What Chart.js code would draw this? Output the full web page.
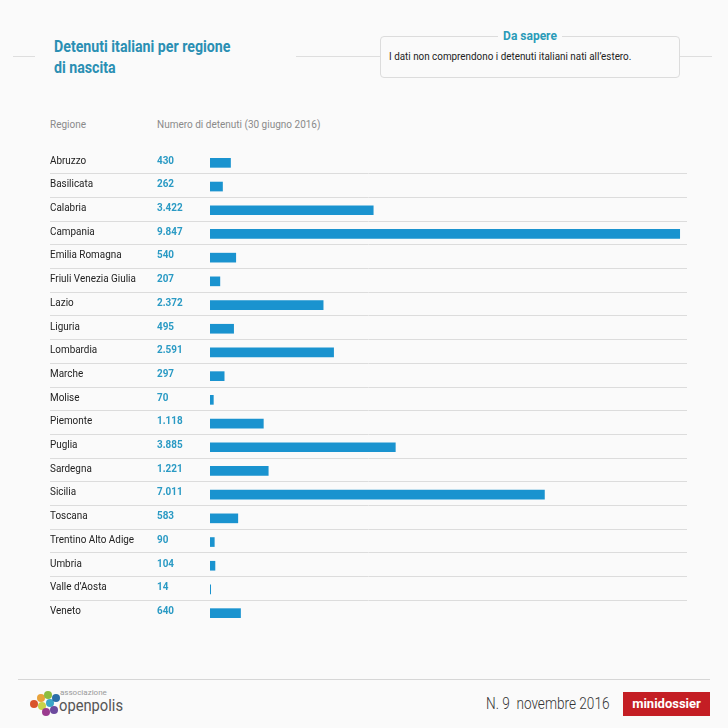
<!DOCTYPE html>
<html>
<head>
<meta charset="utf-8">
<script src="https://cdn.jsdelivr.net/npm/chart.js@4"></script>
<style>
  html, body { margin: 0; padding: 0; }
  body { width: 728px; height: 728px; background: #fafafa; position: relative; overflow: hidden; font-family: Roboto, "Open Sans", sans-serif; }
  .abs { position: absolute; }
  .rule { position: absolute; height: 1px; background: #dedede; }
  #title { left: 54px; top: 36px; color: #2a8fb3; font-size: 16.5px; font-weight: 700; line-height: 21px; transform: scaleX(0.86); transform-origin: left top; white-space: nowrap; }
  #box { left: 380px; top: 36px; width: 298px; height: 40px; border: 1px solid #dcdcdc; border-radius: 4px; background: #fafafa; }
  #boxTitle { left: 498px; top: 29px; width: 64px; text-align: center; background: #fafafa; color: #2a9bb8; font-size: 12px; font-weight: 700; }
  #boxText { left: 389px; top: 50px; font-size: 10.5px; color: #222; transform: scaleX(0.94); transform-origin: left top; white-space: nowrap; }
  .hdr { top: 119px; font-size: 10px; color: #8a8a8a; white-space: nowrap; }
  #wrap { position: absolute; left: 0; top: 151px; width: 728px; height: 474px; }
  #footDate { left: 486px; top: 694px; font-size: 16px; color: #333; font-weight: 300; transform: scaleX(0.85); transform-origin: left top; white-space: nowrap; }
  #mini { left: 623px; top: 692px; width: 87px; height: 24px; background: #c41e24; color: #fff; font-size: 13px; font-weight: 700; text-align: center; line-height: 24px; }
  .blob { position: absolute; width: 8px; height: 8px; border-radius: 50%; }
</style>
</head>
<body>
<div class="rule" style="left:13px; top:56px; width:22px;"></div>
<div class="rule" style="left:296px; top:56px; width:416px;"></div>
<div id="title" class="abs">Detenuti italiani per regione<br>di nascita</div>
<div id="box" class="abs"></div>
<div id="boxTitle" class="abs">Da sapere</div>
<div id="boxText" class="abs">I dati non comprendono i detenuti italiani nati all’estero.</div>
<div class="abs hdr" style="left:50px;">Regione</div>
<div class="abs hdr" style="left:157px;">Numero di detenuti (30 giugno 2016)</div>

<div id="wrap"><canvas id="chart"></canvas></div>

<div class="rule" style="left:18px; top:679px; width:692px; background:#d6d6d6;"></div>
<!-- logo openpolis (approssimato) -->
<div class="blob" style="left:30px; top:700px; background:#d9542b;"></div>
<div class="blob" style="left:37px; top:694px; background:#e8a23a;"></div>
<div class="blob" style="left:44px; top:691px; background:#8cbd3f;"></div>
<div class="blob" style="left:38px; top:702px; background:#c7d34a;"></div>
<div class="blob" style="left:46px; top:699px; background:#3aa6c8;"></div>
<div class="blob" style="left:52px; top:694px; background:#2b6fa8;"></div>
<div class="blob" style="left:42px; top:708px; background:#9b3b8f;"></div>
<div class="blob" style="left:50px; top:706px; background:#6c4a9e;"></div>
<div class="abs" style="left:60px; top:688px; font-size:8px; color:#999;">associazione</div>
<div class="abs" style="left:59px; top:696px; font-size:16px; color:#555; transform: scaleX(0.92); transform-origin: left top;">openpolis</div>
<div id="footDate" class="abs">N. 9&nbsp; novembre 2016</div>
<div id="mini" class="abs">minidossier</div>

<script>
const regioni = ['Abruzzo', 'Basilicata', 'Calabria', 'Campania', 'Emilia Romagna', 'Friuli Venezia Giulia',
  'Lazio', 'Liguria', 'Lombardia', 'Marche', 'Molise', 'Piemonte', 'Puglia', 'Sardegna', 'Sicilia',
  'Toscana', 'Trentino Alto Adige', 'Umbria', "Valle d'Aosta", 'Veneto'];
const detenuti = [430, 262, 3422, 9847, 540, 207, 2372, 495, 2591, 297, 70, 1118, 3885, 1221, 7011,
  583, 90, 104, 14, 640];

const fmt = n => String(n).replace(/\B(?=(\d{3})+(?!\d))/g, '.');

// region names, values and row separators drawn from the y scale
const tablePlugin = {
  id: 'tablePlugin',
  afterDraw(chart) {
    const ctx = chart.ctx;
    const y = chart.scales.y;
    const right = chart.chartArea.right;
    ctx.save();
    ctx.strokeStyle = '#dcdcdc';
    ctx.lineWidth = 1;
    for (let i = 0; i < regioni.length - 1; i++) {
      const yy = Math.round((y.getPixelForValue(i) + y.getPixelForValue(i + 1)) / 2 - 1.5) + 0.5;
      ctx.beginPath();
      ctx.moveTo(50, yy);
      ctx.lineTo(right, yy);
      ctx.stroke();
    }
    ctx.textBaseline = 'middle';
    regioni.forEach((r, i) => {
      const yy = y.getPixelForValue(i) - 2;
      ctx.save();
      ctx.translate(50, yy);
      ctx.scale(0.9, 1);
      ctx.font = '11px Roboto';
      ctx.fillStyle = '#222';
      ctx.fillText(r.replace("'", '’'), 0, 0);
      ctx.restore();
      ctx.save();
      ctx.translate(157, yy);
      ctx.scale(0.9, 1);
      ctx.font = 'bold 11px Roboto';
      ctx.fillStyle = '#2a9ac4';
      ctx.fillText(fmt(detenuti[i]), 0, 0);
      ctx.restore();
    });
    ctx.restore();
  }
};

new Chart(document.getElementById('chart'), {
  type: 'bar',
  data: {
    labels: regioni,
    datasets: [{
      data: detenuti,
      backgroundColor: '#1a93cf',
      barThickness: 9,
      borderWidth: 0
    }]
  },
  options: {
    indexAxis: 'y',
    responsive: true,
    maintainAspectRatio: false,
    animation: false,
    layout: { padding: { left: 210, right: 41, top: 0, bottom: 0 } },
    plugins: { legend: { display: false }, tooltip: { enabled: false } },
    scales: {
      x: { display: false, min: 0, max: 10000 },
      y: { display: false }
    }
  },
  plugins: [tablePlugin]
});
</script>
</body>
</html>
